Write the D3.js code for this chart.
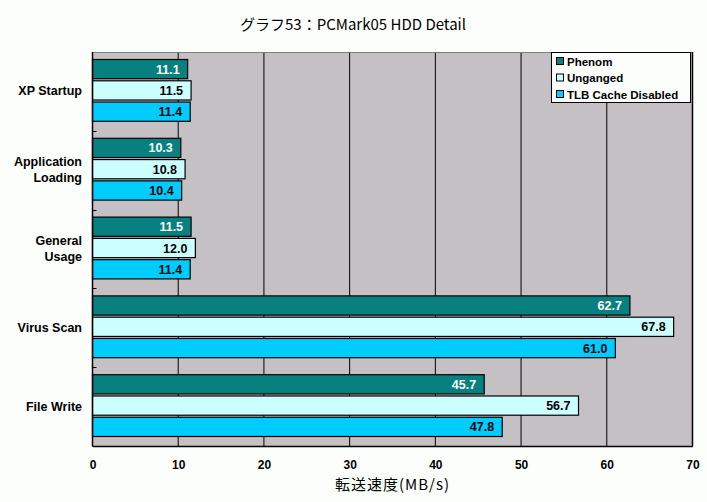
<!DOCTYPE html>
<html lang="ja">
<head>
<meta charset="utf-8">
<script src="https://cdn.jsdelivr.net/npm/d3@7"></script>
<style>
    html, body {
        margin: 0;
        padding: 0;
        background: #fcfefc;
        overflow: hidden;
    }
    text {
        font-family: "Liberation Sans", Arial, sans-serif;
        font-weight: bold;
        font-size: 12px;
        fill: #000;
    }
    .jp {
        font-family: "Noto Sans CJK JP", sans-serif;
        font-weight: normal;
    }
</style>
</head>
<body>
<svg id="chart" width="707" height="502"></svg>
<script>
    // data
    var categories = ["XP Startup", "Application\nLoading", "General\nUsage", "Virus Scan", "File Write"];
    var seriesNames = ["Phenom", "Unganged", "TLB Cache Disabled"];
    var phenom = [11.1, 10.3, 11.5, 62.7, 45.7];
    var unganged = [11.5, 10.8, 12.0, 67.8, 56.7];
    var tlbOff = [11.4, 10.4, 11.4, 61.0, 47.8];
    var xTicks = [0, 10, 20, 30, 40, 50, 60, 70];

    var seriesValues = [phenom, unganged, tlbOff];
    var colors = ["#088080", "#ccffff", "#00ccff"];
    var labelColors = ["#fff", "#000", "#000"];

    var plotLeft = 92.5, plotRight = 692.5, plotTop = 52, plotBottom = 446;

    var svg = d3.select("#chart");

    var x = d3.scaleLinear().domain([0, 70]).range([plotLeft, plotRight]);
    var y = d3.scaleBand().domain(d3.range(categories.length)).range([plotTop, plotBottom]);
    var inner = d3.scaleBand().domain(d3.range(seriesNames.length))
        .range([7, y.bandwidth() - 9]).paddingInner(0.05);

    // plot background
    svg.append("rect")
        .attr("x", plotLeft).attr("y", plotTop)
        .attr("width", plotRight - plotLeft).attr("height", plotBottom - plotTop)
        .attr("fill", "#c4c0c4");

    // grid lines
    svg.append("g").selectAll("line")
        .data(xTicks.slice(1, -1))
        .enter().append("line")
        .attr("x1", function (d) { return x(d); })
        .attr("x2", function (d) { return x(d); })
        .attr("y1", plotTop).attr("y2", plotBottom)
        .attr("stroke", "#000").attr("stroke-width", 1);

    // bars
    seriesValues.forEach(function (vals, s) {
        var g = svg.append("g");
        g.selectAll("rect")
            .data(vals)
            .enter().append("rect")
            .attr("x", x(0))
            .attr("y", function (d, i) { return y(i) + inner(s) + 0.5; })
            .attr("width", function (d) { return x(d) - x(0); })
            .attr("height", inner.bandwidth() - 1)
            .attr("fill", colors[s])
            .attr("stroke", "#000")
            .attr("stroke-width", 1.2);

        g.selectAll("text")
            .data(vals)
            .enter().append("text")
            .attr("x", function (d) { return x(d) - 8; })
            .attr("y", function (d, i) { return y(i) + inner(s) + inner.bandwidth() / 2 + 4.5; })
            .attr("text-anchor", "end")
            .style("fill", labelColors[s])
            .style("font-size", "12.5px")
            .text(function (d) { return d.toFixed(1); });
    });

    // frame
    svg.append("line").attr("x1", plotLeft).attr("x2", plotRight)
        .attr("y1", plotTop + 0.5).attr("y2", plotTop + 0.5)
        .attr("stroke", "#808080");
    svg.append("line").attr("x1", plotRight).attr("x2", plotRight)
        .attr("y1", plotTop).attr("y2", plotBottom)
        .attr("stroke", "#000").attr("stroke-width", 1.5);

    // axes
    var xAxis = svg.append("g")
        .attr("transform", "translate(0," + plotBottom + ")")
        .call(d3.axisBottom(x).tickValues(xTicks).tickSize(0).tickPadding(14));
    xAxis.select(".domain").attr("stroke", "#000").attr("stroke-width", 1.5);
    xAxis.selectAll("text")
        .style("font-size", "12px").style("font-weight", "bold")
        .style("font-family", "'Liberation Sans', Arial, sans-serif");

    svg.append("line").attr("x1", plotLeft).attr("x2", plotLeft)
        .attr("y1", plotTop).attr("y2", plotBottom + 0.75)
        .attr("stroke", "#000").attr("stroke-width", 1.5);

    // category boundary ticks
    svg.append("g").selectAll("line")
        .data(d3.range(1, categories.length))
        .enter().append("line")
        .attr("x1", plotLeft).attr("x2", plotLeft + 4)
        .attr("y1", function (d) { return Math.round(y(d)) + 0.5; })
        .attr("y2", function (d) { return Math.round(y(d)) + 0.5; })
        .attr("stroke", "#000");

    // category labels
    var catLabels = svg.append("g").selectAll("text")
        .data(categories)
        .enter().append("text")
        .attr("text-anchor", "end")
        .style("font-size", "12.5px")
        .attr("y", function (d, i) {
            var lines = d.split("\n").length;
            return y(i) + y.bandwidth() / 2 + 4 - (lines - 1) * 8;
        });
    catLabels.each(function (d) {
        var t = d3.select(this);
        d.split("\n").forEach(function (line, k) {
            t.append("tspan").attr("x", 82).attr("dy", k === 0 ? 0 : 16).text(line);
        });
    });

    // title
    svg.append("text")
        .attr("class", "jp")
        .attr("x", 353).attr("y", 30)
        .attr("text-anchor", "middle")
        .style("font-size", "15px")
        .text("グラフ53：PCMark05  HDD  Detail");

    // axis title
    svg.append("text")
        .attr("class", "jp")
        .attr("x", (plotLeft + plotRight) / 2).attr("y", 490)
        .attr("text-anchor", "middle")
        .style("font-size", "15px")
        .style("letter-spacing", "1px")
        .text("転送速度(MB/s)");

    // legend
    var legend = svg.append("g");
    legend.append("rect")
        .attr("x", 551.5).attr("y", 52.5)
        .attr("width", 139).attr("height", 50)
        .attr("fill", "#fcfefc").attr("stroke", "#000");
    var items = legend.selectAll("g.item")
        .data(seriesNames)
        .enter().append("g")
        .attr("class", "item")
        .attr("transform", function (d, i) { return "translate(556," + (57 + i * 16.5) + ")"; });
    items.append("rect")
        .attr("x", 0.5).attr("y", 0.5)
        .attr("width", 7).attr("height", 7)
        .attr("fill", function (d, i) { return colors[i]; })
        .attr("stroke", "#000");
    items.append("text")
        .attr("x", 11).attr("y", 8.5)
        .style("font-size", "11.5px")
        .text(function (d) { return d; });
</script>
</body>
</html>
